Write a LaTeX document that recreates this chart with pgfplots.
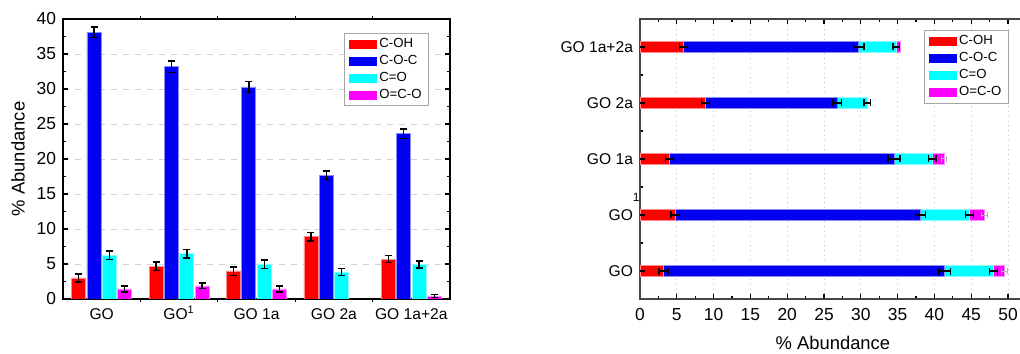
\documentclass[border=0pt]{standalone}
\usepackage{pgfplots}
\pgfplotsset{compat=1.18}
\usepackage{fontspec}
\setmainfont{Liberation Sans}
\definecolor{cred}{RGB}{255,0,0}
\definecolor{cblue}{RGB}{0,0,245}
\definecolor{ccyan}{RGB}{0,255,255}
\definecolor{cmag}{RGB}{255,0,255}
\begin{document}
\begin{tikzpicture}
\path[use as bounding box] (0,0) rectangle (510pt,176.5pt);
\pgfplotsset{
  every axis/.append style={font=\fontsize{8.7}{10}\selectfont, /pgf/number format/assume math mode=true},
  every axis label/.append style={font=\fontsize{9.2}{11}\selectfont},
  legimg/.style={legend image code/.code={\fill[##1,draw=none] (0pt,-2.25pt) rectangle (14pt,2.25pt);}},
  mylegend/.style={legend style={draw=gray!70, line width=0.5pt, font=\fontsize{6.6}{7.5}\selectfont,
      cells={anchor=west}, nodes={inner xsep=1.25pt, inner ysep=1.2pt}, row sep=0pt,
      inner xsep=2.1pt, inner ysep=1.1pt},
      legend cell align=left},
  error bars/myerr/.style={error bar style={black, line width=0.7pt}, error mark options={black, line width=0.7pt, mark size=1.75pt, rotate=90}},
}
% ---------------- Left chart ----------------
\begin{axis}[
 at={(31.5pt,27pt)}, anchor=south west, scale only axis, width=193.5pt, height=140pt,
 xmin=-0.5, xmax=4.5, ymin=0, ymax=40,
 xtick={0,1,2,3,4}, xticklabels={GO,GO\textsuperscript{1},GO 1a,GO 2a,GO 1a+2a},
 minor xtick={0.5,1.5,2.5,3.5},
 ytick={0,5,...,40}, minor ytick={2.5,7.5,...,37.5},
 tick align=inside, xtick pos=both, ytick pos=both,
 major tick length=2.5pt, minor tick length=1.5pt,
 tick style={line width=0.6pt, black},
 major x tick style={draw=none},
 ymajorgrids, grid style={dashed, gray!35, line width=0.4pt},
 axis line style={line width=0.7pt},
 ylabel={\% Abundance}, ylabel style={at={(axis description cs:-0.116,0.5)}, anchor=center},
 xticklabel style={font=\fontsize{7.8}{9}\selectfont, text height=6.5pt, text depth=0pt, yshift=2.3pt},
 ybar, bar width=7pt,
 legimg, mylegend,
 legend style={at={(0.945,0.95)}, anchor=north east},
]
\addplot[fill=cred, draw=cred!45!white, line width=0.4pt, bar shift=-11.5pt,
  error bars/.cd, y dir=both, y explicit, myerr]
  coordinates {(0,3.0)+-(0,0.6) (1,4.7)+-(0,0.6) (2,4.0)+-(0,0.6) (3,8.9)+-(0,0.6) (4,5.7)+-(0,0.52)};
\addplot[fill=cblue, draw=cblue!45!white, line width=0.4pt, bar shift=-3.85pt,
  error bars/.cd, y dir=both, y explicit, myerr]
  coordinates {(0,38.1)+-(0,0.76) (1,33.2)+-(0,0.8) (2,30.3)+-(0,0.79) (3,17.7)+-(0,0.6) (4,23.6)+-(0,0.67)};
\addplot[fill=ccyan, draw=ccyan!45!white, line width=0.4pt, bar shift=3.85pt,
  error bars/.cd, y dir=both, y explicit, myerr]
  coordinates {(0,6.25)+-(0,0.62) (1,6.45)+-(0,0.62) (2,5.0)+-(0,0.6) (3,3.86)+-(0,0.48) (4,4.95)+-(0,0.5)};
\addplot[fill=cmag, draw=cmag!45!white, line width=0.4pt, bar shift=11.5pt,
  error bars/.cd, y dir=both, y explicit, myerr]
  coordinates {(0,1.43)+-(0,0.43) (1,1.86)+-(0,0.4) (2,1.43)+-(0,0.43) (4,0.43)+-(0,0.2)};
\legend{C-OH,C-O-C,C=O,O=C-O}
\end{axis}
% ---------------- Right chart ----------------
\begin{axis}[
 at={(320pt,27pt)}, anchor=south west, scale only axis, width=191.36pt, height=140pt,
 xmin=0, xmax=52, ymin=-0.5, ymax=4.5,
 xbar stacked, bar width=5.5pt,
 ytick={0,1,2,3,4},
 yticklabels={GO,GO\rlap{\raisebox{9.5pt}{\fontsize{6}{6}\selectfont 1}},GO 1a,GO 2a,GO 1a+2a},
 yticklabel style={font=\fontsize{7.8}{9}\selectfont, text height=5.6pt, text depth=0pt},
 minor ytick={0.5,1.5,2.5,3.5},
 xtick={0,5,...,50}, minor xtick={2.5,7.5,...,47.5},
 tick align=inside, xtick pos=both, ytick pos=left,
 major tick length=2.5pt, minor tick length=1.5pt,
 tick style={line width=0.6pt, black},
 xmajorgrids, grid style={dotted, gray!50, line width=0.4pt},
 axis line style={gray!55!black, line width=0.8pt},
 xlabel={\% Abundance}, xlabel style={at={(axis description cs:0.504,-0.157)}, anchor=center},
 xticklabel style={yshift=-1pt},
 legimg, mylegend,
 legend style={at={(0.963,0.96)}, anchor=north east},
]
\addplot[fill=cred, draw=cred!45!white, line width=0.4pt]
  coordinates {(3.2,0) (4.8,1) (4.0,2) (8.9,3) (5.9,4)};
\addplot[fill=cblue, draw=cblue!45!white, line width=0.4pt]
  coordinates {(38.2,0) (33.3,1) (30.5,2) (17.9,3) (23.8,4)};
\addplot[fill=ccyan, draw=ccyan!45!white, line width=0.4pt]
  coordinates {(6.6,0) (6.7,1) (5.2,2) (4.1,3) (5.1,4)};
\addplot[fill=cmag, draw=cmag!45!white, line width=0.4pt]
  coordinates {(1.5,0) (2.0,1) (1.6,2) (0,3) (0.6,4)};
\legend{C-OH,C-O-C,C=O,O=C-O}
\end{axis}
% overlay: error bars and tick marks on top of the bars
\begin{axis}[
 at={(320pt,27pt)}, anchor=south west, scale only axis, width=191.36pt, height=140pt,
 xmin=0, xmax=52, ymin=-0.5, ymax=4.5,
 hide x axis, y axis line style={draw=none},
 ytick={0,1,2,3,4}, yticklabels={}, minor ytick={},
 tick align=inside, ytick pos=left, major tick length=2.5pt,
 tick style={line width=0.6pt, black},
]
\addplot[draw=none, mark=none,
  error bars/.cd, x dir=both, x explicit, myerr]
  coordinates {(3.2,0)+-(0.6,0) (41.4,0)+-(0.8,0) (48.0,0)+-(0.55,0)
               (4.8,1)+-(0.6,0) (38.1,1)+-(0.7,0) (44.8,1)+-(0.55,0)
               (4.0,2)+-(0.57,0) (34.5,2)+-(0.8,0) (39.7,2)+-(0.5,0)
               (8.9,3)+-(0.57,0) (26.8,3)+-(0.6,0) (30.9,3)+-(0.45,0)
               (5.9,4)+-(0.54,0) (29.7,4)+-(0.72,0) (34.8,4)+-(0.45,0)};
\addplot[draw=none, mark=none,
  error bars/.cd, x dir=both, x explicit,
  error bar style={draw=gray!60, line width=0.5pt}, error mark options={draw=gray!60, line width=0.5pt, mark size=1.5pt, rotate=90}]
  coordinates {(49.5,0)+-(0.4,0) (46.8,1)+-(0.35,0) (41.3,2)+-(0.35,0)};
\end{axis}
\end{tikzpicture}
\end{document}
